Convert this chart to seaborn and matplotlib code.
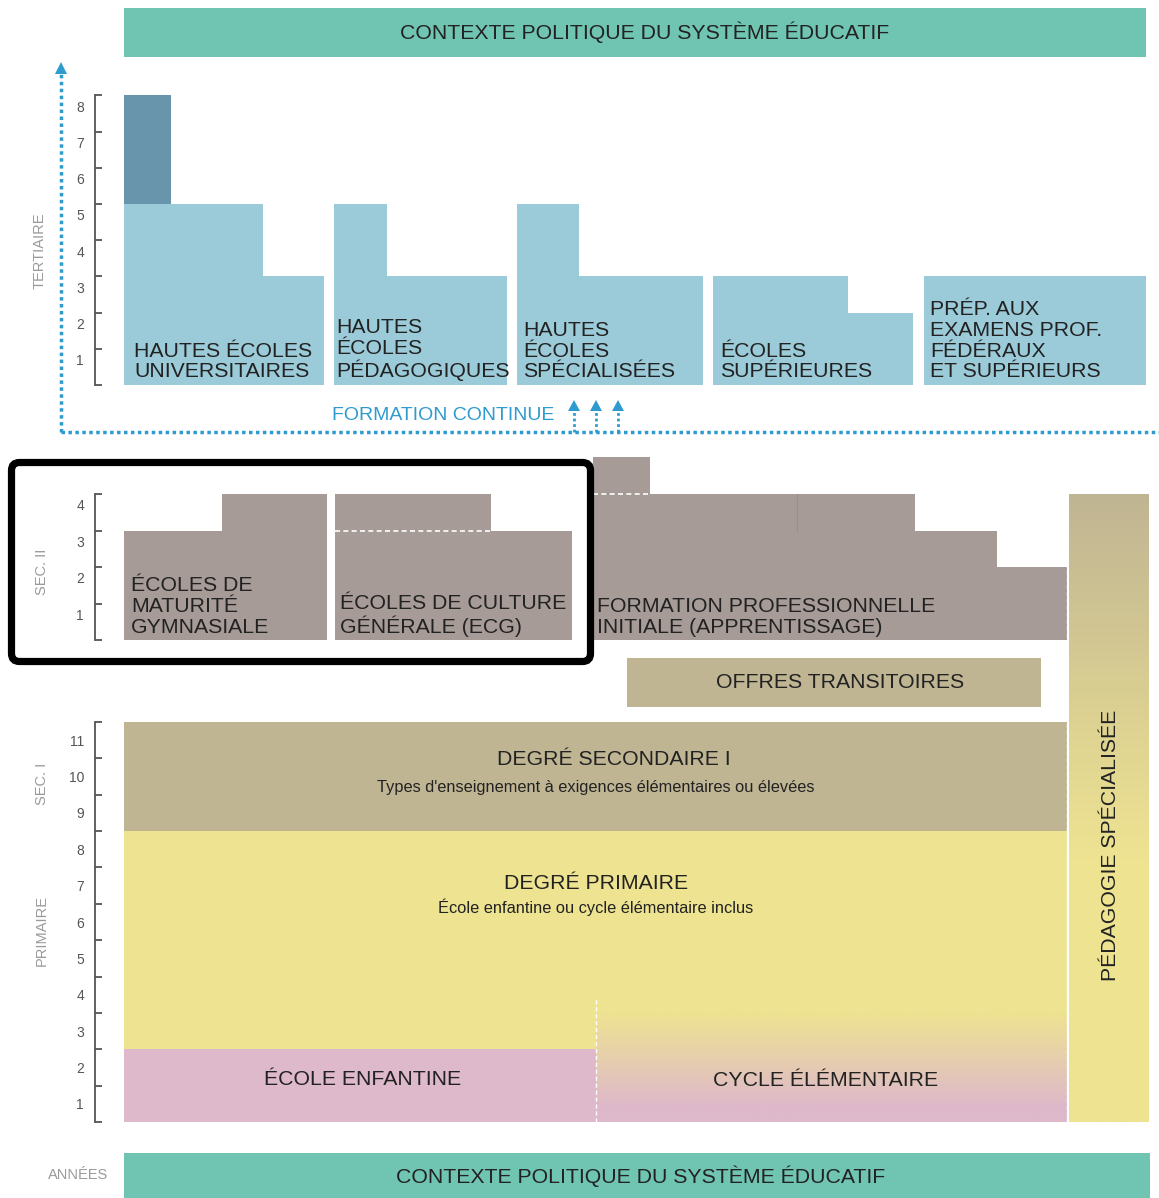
import numpy as np
import matplotlib
matplotlib.use("Agg")
import matplotlib.pyplot as plt
from matplotlib.patches import Rectangle, FancyBboxPatch, Polygon
import seaborn as sns

W, H = 1159, 1198

# ---- data: durations in years ----
band_text = "CONTEXTE POLITIQUE DU SYSTÈME ÉDUCATIF"

tertiary_labels = ["HAUTES ÉCOLES\nUNIVERSITAIRES", "HAUTES\nÉCOLES\nPÉDAGOGIQUES",
                   "HAUTES\nÉCOLES\nSPÉCIALISÉES", "ÉCOLES\nSUPÉRIEURES",
                   "PRÉP. AUX\nEXAMENS PROF.\nFÉDÉRAUX\nET SUPÉRIEURS"]
tertiary_years = [[5, 3], [5, 3], [5, 3], [3, 2], [3]]
doctorate_years = [5, 8]
tertiary_ticks = [1, 2, 3, 4, 5, 6, 7, 8]

sec2_labels = ["ÉCOLES DE\nMATURITÉ\nGYMNASIALE", "ÉCOLES DE CULTURE\nGÉNÉRALE (ECG)",
               "FORMATION PROFESSIONNELLE\nINITIALE (APPRENTISSAGE)"]
sec2_years = [[3, 4], [4, 3], [4, 4, 4, 3, 2]]
ecg_cert_year = 3
fp_maturite_years = [4, 5]
sec2_ticks = [1, 2, 3, 4]

transition_label = "OFFRES TRANSITOIRES"
special_label = "PÉDAGOGIE SPÉCIALISÉE"

sec1_years = [8, 11]
primary_years = [0, 8]
enfantine_years = [0, 2]
cycle_years = [0, 3.4]
school_ticks = [1, 2, 3, 4, 5, 6, 7, 8, 9, 10, 11]
sec1_title = ["DEGRÉ SECONDAIRE I", "Types d'enseignement à exigences élémentaires ou élevées"]
primary_title = ["DEGRÉ PRIMAIRE", "École enfantine ou cycle élémentaire inclus"]
enfantine_label = "ÉCOLE ENFANTINE"
cycle_label = "CYCLE ÉLÉMENTAIRE"
side_labels = ["TERTIAIRE", "SEC. II", "SEC. I", "PRIMAIRE"]

# ---- layout (pixels) ----
tertiary_edges = [[124, 263, 324], [334, 387, 507], [517, 579, 703], [713, 848, 913], [924, 1146]]
tertiary_text_x = [134, 336, 523, 720, 930]
sec2_edges = [[124, 222, 327], [335, 491, 572], [593, 650, 797, 915, 997, 1067]]
sec2_text_x = [131, 340, 597]

TEAL = "#70C4B2"
LBLUE = "#9BCAD8"
DBLUE = "#6895AB"
TAUPE = "#A69B97"
KHAKI = "#C0B593"
YELLOW = "#EEE391"
PINK = "#DEB8CB"
ACCENT = "#2E9BCF"
INK = "#222222"
GREY = "#9a9a9a"
BIG = 15.3
SMALL = 11.8
LS = 1.12

sns.set_theme(style="white")
plt.rcParams['font.family'] = ['Liberation Sans', 'DejaVu Sans']

fig = plt.figure(figsize=(W / 100, H / 100), dpi=100)


def year_axes(base, ppy, ymax, ticks, lab_shift=0.0):
    ax = fig.add_axes([0, (H - base) / H, 1, ymax * ppy / H])
    ax.set_xlim(0, W)
    ax.set_ylim(0, ymax)
    ax.patch.set_alpha(0)
    ax.set_zorder(2)
    for s in ['top', 'right', 'bottom']:
        ax.spines[s].set_visible(False)
    sp = ax.spines['left']
    sp.set_position(('data', 95))
    sp.set_bounds(0, len(ticks))
    sp.set_color('#555555')
    sp.set_linewidth(1.3)
    ax.set_xticks([])
    ax.set_yticks(range(len(ticks) + 1))
    ax.set_yticklabels([])
    ax.set_yticks([t - 0.5 + lab_shift for t in ticks], minor=True)
    ax.set_yticklabels([str(t) for t in ticks], minor=True)
    ax.tick_params(axis='y', which='major', direction='in', length=5, width=1.3,
                   color='#555555', left=True)
    ax.tick_params(axis='y', which='minor', length=0, pad=8, labelsize=10,
                   labelcolor='#555555', left=True)
    ax.grid(False)
    return ax


def steps(ax, edges, years, color):
    for i, y in enumerate(years):
        ax.bar(edges[i], y, width=edges[i + 1] - edges[i], align='edge',
               color=color, linewidth=0)


# ---- tertiary ----
ax_t = year_axes(385, 36.2, 8, tertiary_ticks, lab_shift=0.2)
for edges, years, lab, tx in zip(tertiary_edges, tertiary_years, tertiary_labels, tertiary_text_x):
    steps(ax_t, edges, years, LBLUE)
    ax_t.text(tx, 0.1, lab, ha='left', va='bottom', fontsize=BIG, color=INK, linespacing=LS)
ax_t.bar(124, doctorate_years[1] - doctorate_years[0], bottom=doctorate_years[0],
         width=171 - 124, align='edge', color=DBLUE, linewidth=0)

# ---- secondary II ----
ax_s2 = year_axes(640, 36.5, 5, sec2_ticks, lab_shift=0.2)
for edges, years, lab, tx in zip(sec2_edges, sec2_years, sec2_labels, sec2_text_x):
    steps(ax_s2, edges, years, TAUPE)
    ax_s2.text(tx, 0.08, lab, ha='left', va='bottom', fontsize=BIG, color=INK, linespacing=LS)
ax_s2.bar(593, fp_maturite_years[1] - fp_maturite_years[0], bottom=fp_maturite_years[0],
          width=650 - 593, align='edge', color=TAUPE, linewidth=0)
ax_s2.plot([335, 491], [ecg_cert_year, ecg_cert_year], color='white', lw=1.2, ls=(0, (3, 2)))
ax_s2.plot([593, 650], [fp_maturite_years[0]] * 2, color='white', lw=1.2, ls=(0, (3, 2)))
ax_s2.plot([797, 797], [3, 4], color='#998e8a', lw=0.8)

# ---- secondary I / primary ----
ax_p = year_axes(1122, 36.36, 11, school_ticks)
ax_p.bar(124, sec1_years[1] - sec1_years[0], bottom=sec1_years[0], width=1067 - 124,
         align='edge', color=KHAKI, linewidth=0)
ax_p.bar(124, primary_years[1] - primary_years[0], bottom=primary_years[0], width=1067 - 124,
         align='edge', color=YELLOW, linewidth=0)
ax_p.bar(124, enfantine_years[1] - enfantine_years[0], bottom=enfantine_years[0],
         width=596 - 124, align='edge', color=PINK, linewidth=0)
yy = np.linspace(cycle_years[1], cycle_years[0], 200)
t = np.clip((yy - 0.4) / 2.6, 0, 1)[:, None]
c_p = np.array(matplotlib.colors.to_rgb(PINK))
c_y = np.array(matplotlib.colors.to_rgb(YELLOW))
grad = (c_p * (1 - t) + c_y * t)[:, None, :]
ax_p.imshow(grad, extent=(596, 1067, cycle_years[0], cycle_years[1]), aspect='auto',
            origin='upper', zorder=2)
ax_p.set_xlim(0, W)
ax_p.set_ylim(0, 11)
ax_p.plot([596, 596], [cycle_years[0], cycle_years[1]], color='white', lw=1, ls=(0, (3, 2)), zorder=3)
ax_p.text(614, 9.97, sec1_title[0], ha='center', va='center', fontsize=BIG, color=INK)
ax_p.text(596, 9.2, sec1_title[1], ha='center', va='center', fontsize=SMALL, color=INK)
ax_p.text(596, 6.57, primary_title[0], ha='center', va='center', fontsize=BIG, color=INK)
ax_p.text(596, 5.9, primary_title[1], ha='center', va='center', fontsize=SMALL, color=INK)
ax_p.text(363, 1.16, enfantine_label, ha='center', va='center', fontsize=BIG, color=INK)
ax_p.text(826, 1.13, cycle_label, ha='center', va='center', fontsize=BIG, color=INK)

# ---- overlay in pixel coordinates ----
ov = fig.add_axes([0, 0, 1, 1])
ov.set_zorder(3)
ov.patch.set_alpha(0)
ov.axis('off')

ov.add_patch(Rectangle((124, 8), 1146 - 124, 49, color=TEAL, lw=0))
ov.text(645, 32, band_text, ha='center', va='center', fontsize=BIG, color=INK)
ov.add_patch(Rectangle((124, 1153), 1150 - 124, 45, color=TEAL, lw=0))
ov.text(641, 1176, band_text, ha='center', va='center', fontsize=BIG, color=INK)
ov.text(78, 1175, "ANNÉES", ha='center', va='center', fontsize=10.5, color=GREY)

ov.add_patch(Rectangle((627, 658), 1041 - 627, 49, color=KHAKI, lw=0))
ov.text(840, 683, transition_label, ha='center', va='center', fontsize=BIG, color=INK)

yy = np.linspace(0, 1, 300)
tt = np.clip(yy / 0.58, 0, 1)[:, None]
c_k = np.array(matplotlib.colors.to_rgb(KHAKI))
ped = (c_k * (1 - tt) + c_y * tt)[:, None, :]
ov.imshow(ped, extent=(1069, 1149, 1122, 494), aspect='auto', origin='upper')
ov.plot([1067, 1067], [494, 1122], color='white', lw=1, ls=(0, (3, 2)))
ov.text(1111, 845, special_label, ha='center', va='center', rotation=90, fontsize=BIG, color=INK)

for lab, (x, y) in zip(side_labels, [(40, 251), (42, 572), (42, 784), (42, 930)]):
    ov.text(x, y, lab, ha='center', va='center', rotation=90, fontsize=10.5, color=GREY)

# formation continue arrows
ov.plot([61, 61], [432, 74], color=ACCENT, lw=2.5, ls=(0, (1, 1)))
ov.add_patch(Polygon([(55, 74), (67, 74), (61, 62)], closed=True, color=ACCENT, lw=0))
ov.plot([61, 1159], [432, 432], color=ACCENT, lw=2.5, ls=(0, (1, 1)))
for x in [574, 596, 618]:
    ov.plot([x, x], [432, 410], color=ACCENT, lw=2, ls=(0, (1, 1)))
    ov.add_patch(Polygon([(x - 6, 411), (x + 6, 411), (x, 400)], closed=True, color=ACCENT, lw=0))
ov.text(332, 416, "FORMATION CONTINUE", ha='left', va='center', fontsize=14, color=ACCENT)

# highlight frame
ov.add_patch(FancyBboxPatch((11.5, 462.5), 579, 199, boxstyle='round,pad=0,rounding_size=8',
                            fill=False, ec='black', lw=5.2))

ov.set_xlim(0, W)
ov.set_ylim(H, 0)

fig.savefig("out.png", dpi=100)
